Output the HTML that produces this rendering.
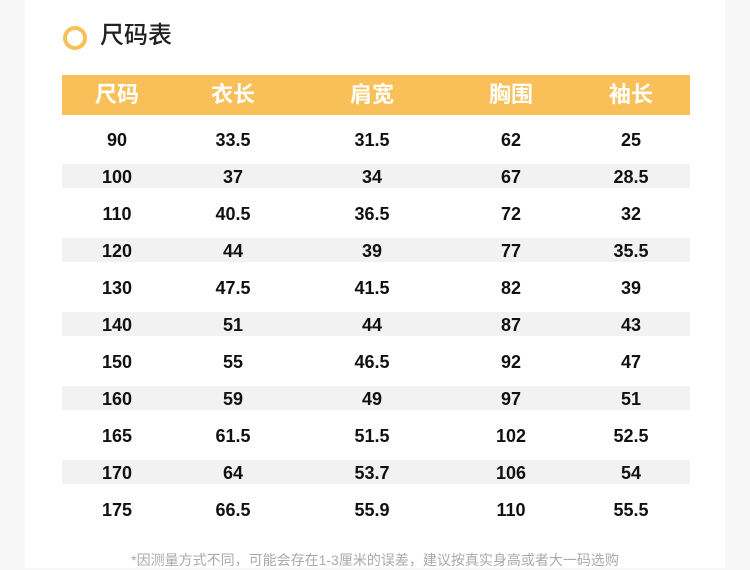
<!DOCTYPE html>
<html><head><meta charset="utf-8"><style>
body{margin:0;width:750px;height:568px;background:#f7f7f7;position:relative;overflow:hidden;font-family:"Liberation Sans","Noto Sans CJK SC",sans-serif}
.panel{position:absolute;left:25px;top:0;width:700px;height:568px;background:#fff}
.circ{position:absolute;left:63px;top:26px;width:16px;height:16px;border:4px solid #f9c05a;border-radius:50%}
.title{position:absolute;left:100px;top:20px;font-size:24px;color:#222;line-height:32px;font-weight:500}
.hdr{position:absolute;left:62px;top:75px;width:628px;height:40px;background:#f9c05a}
.band{position:absolute;left:62px;width:628px;height:24px;background:#f2f2f2}
.c{position:absolute;width:120px;margin-left:-60px;text-align:center;font-size:18px;color:#111;line-height:24px;font-weight:bold}
.h{color:#fff;font-size:22px;line-height:40px;top:75px;font-weight:bold}
.foot{position:absolute;left:0;width:750px;text-align:center;top:550px;font-size:14px;color:#aaa}
</style></head><body>
<div class="panel"></div>
<div class="circ"></div><div class="title">尺码表</div>
<div class="hdr"></div>
<div class="c h" style="left:117px">尺码</div>
<div class="c h" style="left:233px">衣长</div>
<div class="c h" style="left:372px">肩宽</div>
<div class="c h" style="left:511px">胸围</div>
<div class="c h" style="left:631px">袖长</div>
<div id="rows"></div>
<script>
var d=[["90","33.5","31.5","62","25"],["100","37","34","67","28.5"],["110","40.5","36.5","72","32"],["120","44","39","77","35.5"],["130","47.5","41.5","82","39"],["140","51","44","87","43"],["150","55","46.5","92","47"],["160","59","49","97","51"],["165","61.5","51.5","102","52.5"],["170","64","53.7","106","54"],["175","66.5","55.9","110","55.5"]];
var xs=[117,233,372,511,631],h="";
d.forEach(function(r,i){var cy=140+37*i;if(i%2)h+='<div class="band" style="top:'+(cy-13)+'px"></div>';
r.forEach(function(v,j){h+='<div class="c" style="left:'+xs[j]+'px;top:'+(cy-12)+'px">'+v+'</div>';});});
document.getElementById("rows").innerHTML=h;
</script>
<div class="foot">*因测量方式不同，可能会存在1-3厘米的误差，建议按真实身高或者大一码选购</div>
</body></html>
